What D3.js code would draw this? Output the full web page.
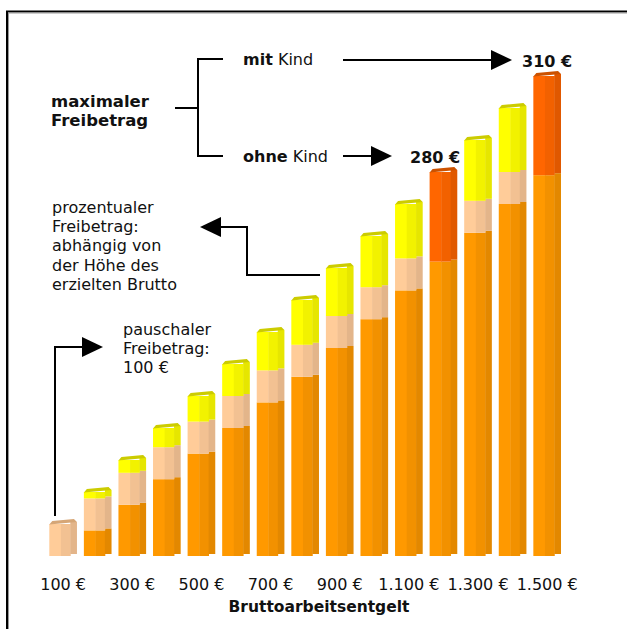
<html>
  <head>
    <meta charset="utf-8">
    <style>
      body { margin: 0; background: #fff; }
      text { font-family: "DejaVu Sans", Verdana, sans-serif; fill: #111; }
    </style>
  </head>
  <body>
    <script src="https://cdn.jsdelivr.net/npm/d3@7"></script>
    <svg width="627" height="629" id="svg1"></svg>
    <script>

    // Bruttoarbeitsentgelt (categories) and parts of each bar in €
    var categories = ["100 €", "200 €", "300 €", "400 €", "500 €", "600 €", "700 €", "800 €",
                      "900 €", "1.000 €", "1.100 €", "1.200 €", "1.300 €", "1.400 €", "1.500 €"];
    var tickLabels = ["100 €", "300 €", "500 €", "700 €", "900 €", "1.100 €", "1.300 €", "1.500 €"];

    var anrechenbar = [0, 80, 160, 240, 320, 400, 480, 560, 650, 740, 830, 920, 1010, 1100, 1190];
    var pauschal    = [100, 100, 100, 100, 100, 100, 100, 100, 100, 100, 100, 0, 100, 100, 0];
    var prozentual  = [0, 20, 40, 60, 80, 100, 120, 140, 150, 160, 170, 0, 190, 200, 0];
    var maximal     = [0, 0, 0, 0, 0, 0, 0, 0, 0, 0, 0, 280, 0, 0, 310];

    var keys = ["anrechenbar", "pauschal", "prozentual", "maximal"];
    // three stripes: front-left, front-mid, side ; cap colour
    var colors = {
      anrechenbar: ["#ff9900", "#f29100", "#e38800", "#c97800"],
      pauschal:    ["#ffcc99", "#f2c192", "#e3b58a", "#d6a676"],
      prozentual:  ["#ffff00", "#f2f200", "#e6e600", "#cccc00"],
      maximal:     ["#ff6600", "#f26100", "#e05800", "#cc5200"]
    };

    var rows = categories.map(function(c, i) {
      return {cat: c, anrechenbar: anrechenbar[i], pauschal: pauschal[i],
              prozentual: prozentual[i], maximal: maximal[i]};
    });
    var series = d3.stack().keys(keys)(rows);

    var svg = d3.select("#svg1");

    // frame
    svg.append("rect").attr("x", 7).attr("y", 11.5).attr("width", 700).attr("height", 700)
       .attr("fill", "none").attr("stroke", "#000").attr("stroke-width", 2);
    svg.append("rect").attr("x", 8.5).attr("y", 13).attr("width", 700).attr("height", 700)
       .attr("fill", "none").attr("stroke", "#999").attr("stroke-width", 1);

    var xScale = d3.scaleBand().domain(categories).range([49.3, 561]).paddingInner(0.2).paddingOuter(0),
        yScale = d3.scaleLinear().domain([0, 1500]).range([556, 76]);
    var w = xScale.bandwidth();
    var stripes = [[0, 0.42, 0], [0.42, 0.76, 0], [0.76, 1, -2]];

    var g = svg.append("g");

    series.forEach(function(s) {
      var key = s.key;
      s.forEach(function(d, i) {
        if (d[1] <= d[0]) return;
        var x = xScale(d.data.cat);
        stripes.forEach(function(st, k) {
          g.append("rect")
           .attr("x", x + w * st[0])
           .attr("width", w * (st[1] - st[0]) + (k < 2 ? 0.4 : 0))
           .attr("y", yScale(d[1]) + st[2])
           .attr("height", yScale(d[0]) - yScale(d[1]))
           .attr("fill", colors[key][k]);
        });
        // top cap only on last non-empty part
        var isTop = keys.slice(keys.indexOf(key) + 1).every(function(k2) { return d.data[k2] === 0; });
        if (isTop) {
          var t = yScale(d[1]);
          g.append("polygon")
           .attr("points", [[x, t + 0.5], [x + 3, t - 3], [x + w - 3, t - 5], [x + w, t - 2]].join(" "))
           .attr("fill", colors[key][3]);
        }
      });
    });

    // x axis
    var axis = svg.append("g")
       .attr("transform", "translate(0,556)")
       .call(d3.axisBottom(xScale).tickValues(tickLabels).tickSize(0));
    axis.select(".domain").remove();
    axis.selectAll("text")
       .attr("y", 34).attr("dy", 0)
       .style("font-family", "'DejaVu Sans', Verdana, sans-serif")
       .style("font-size", "16px").attr("fill", "#111");

    svg.append("text").attr("x", 319).attr("y", 612).attr("text-anchor", "middle")
       .attr("font-weight", "bold").attr("font-size", "15.5px").text("Bruttoarbeitsentgelt");

    // annotations
    function lines(x, y, arr, size, weight) {
      arr.forEach(function(t, i) {
        svg.append("text").attr("x", x).attr("y", y + i * 19.2)
           .attr("font-size", size).attr("font-weight", weight || "normal").text(t);
      });
    }
    lines(51, 107, ["maximaler", "Freibetrag"], "16.5px", "bold");
    lines(52, 213, ["prozentualer", "Freibetrag:", "abhängig von", "der Höhe des", "erzielten Brutto"], "16px");
    lines(123, 335, ["pauschaler", "Freibetrag:", "100 €"], "16px");

    function mixed(x, y, b, r) {
      var t = svg.append("text").attr("x", x).attr("y", y).attr("font-size", "16px");
      t.append("tspan").attr("font-weight", "bold").text(b);
      t.append("tspan").text(" " + r);
    }
    mixed(243, 65, "mit", "Kind");
    mixed(243, 162, "ohne", "Kind");

    svg.append("text").attr("x", 522).attr("y", 66.5).attr("font-size", "16px")
       .attr("font-weight", "bold").text("310 €");
    svg.append("text").attr("x", 410).attr("y", 162.5).attr("font-size", "16px")
       .attr("font-weight", "bold").text("280 €");

    var line = d3.line();
    function path(pts) {
      svg.append("path").attr("d", line(pts)).attr("fill", "none")
         .attr("stroke", "#000").attr("stroke-width", 2);
    }
    function head(tip, dir) {
      var x = tip[0], y = tip[1], L = 21, H = 10;
      svg.append("polygon")
         .attr("points", [[x, y], [x - dir * L, y - H], [x - dir * L, y + H]].join(" "))
         .attr("fill", "#000");
    }
    // bracket
    path([[175, 108], [198, 108]]);
    path([[223, 59], [198, 59], [198, 156], [223, 156]]);
    // mit Kind -> 310
    path([[343, 60], [495, 60]]); head([512, 60], 1);
    // ohne Kind -> 280
    path([[343, 156], [375, 156]]); head([392, 156], 1);
    // prozentual arrow
    path([[320, 275], [247, 275], [247, 227], [215, 227]]); head([200, 227], -1);
    // pauschal arrow
    path([[55, 516], [55, 347], [88, 347]]); head([103, 347], 1);

    </script>
  </body>
</html>
